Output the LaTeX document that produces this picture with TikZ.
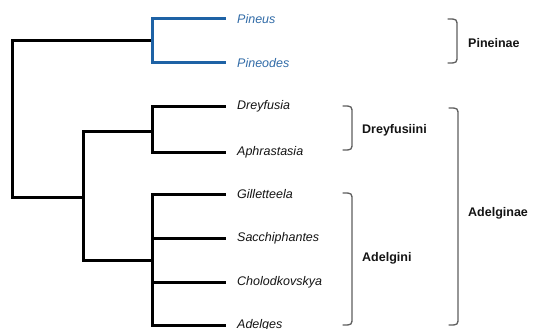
\documentclass[tikz,border=0pt]{standalone}
\usepackage{fontspec}
\setmainfont{Liberation Sans}
\definecolor{treeblue}{RGB}{30,98,165}
\definecolor{textblue}{RGB}{50,108,168}
\definecolor{bracegray}{RGB}{95,95,95}
\definecolor{inkblack}{RGB}{20,20,20}
\begin{document}
\begin{tikzpicture}[x=1pt,y=-1pt,
  tree/.style={line width=3pt,draw=black,line join=miter,line cap=rect},
  bluetree/.style={tree,draw=treeblue},
  leaf/.style={anchor=west,inner sep=0pt,font=\fontsize{12.5}{14}\selectfont\itshape,text=inkblack},
  blueleaf/.style={leaf,text=textblue},
  group/.style={anchor=west,inner sep=0pt,font=\fontsize{12.5}{14}\selectfont\bfseries,text=inkblack},
  brace/.style={draw=bracegray,line width=1.3pt,line cap=round}]
\clip (0,0) rectangle (533,329);
\fill[white] (0,0) rectangle (533,329);
% leaf end points
\coordinate (pinL) at (224,19);
\coordinate (pinoL) at (224,63);
\coordinate (dreyL) at (224,106);
\coordinate (aphL) at (224,152);
\coordinate (gilL) at (224,194);
\coordinate (sacL) at (224,238);
\coordinate (chollL) at (224,282);
\coordinate (adeL) at (224,325);
% internal nodes
\coordinate (nPin) at (152,41);
\coordinate (nDrey) at (152,131);
\coordinate (nAdel) at (152,260);
\coordinate (nAdgn) at (83,197);
\coordinate (nRoot) at (12,119);
% labels
\node[blueleaf] (pineus) at (237,19) {Pineus};
\node[blueleaf] (pineodes) at (237,63) {Pineodes};
\node[leaf] (dreyfusia) at (237,106) {Dreyfusia};
\node[leaf] (aphrastasia) at (237,152) {Aphrastasia};
\node[leaf] (gilletteela) at (237,194) {Gilletteela};
\node[leaf] (sacchiphantes) at (237,238) {Sacchiphantes};
\node[leaf] (cholodkovskya) at (237,282) {Cholodkovskya};
\node[leaf] (adelges) at (237,325) {Adelges};
% tree
\draw[tree] (nPin) -| (nRoot) |- (nAdgn);
\draw[tree] (nDrey) -| (nAdgn) |- (nAdel);
\draw[tree] (dreyL) -| (nDrey) |- (aphL);
\draw[tree] (gilL) -| (nAdel) |- (adeL);
\draw[tree] (sacL) -- (sacL -| nAdel);
\draw[tree] (chollL) -- (chollL -| nAdel);
\draw[bluetree] (pinL) -| (nPin) |- (pinoL);
% brackets
\draw[brace] (448,19) .. controls (457,19) .. (457,27) -- (457,55) .. controls (457,63) .. (448,63);
\draw[brace] (343,106) .. controls (352,106) .. (352,114) -- (352,142) .. controls (352,150) .. (343,150);
\draw[brace] (343,193) .. controls (352,193) .. (352,201) -- (352,317) .. controls (352,325) .. (343,325);
\draw[brace] (449,108) .. controls (458,108) .. (458,116) -- (458,317) .. controls (458,325) .. (449,325);
\node[group] (pineinae) at (468,43) {Pineinae};
\node[group] (dreyfusiini) at (362,130) {Dreyfusiini};
\node[group] (adelginae) at (468,213) {Adelginae};
\node[group] (adelgini) at (362,258) {Adelgini};
\end{tikzpicture}
\end{document}
